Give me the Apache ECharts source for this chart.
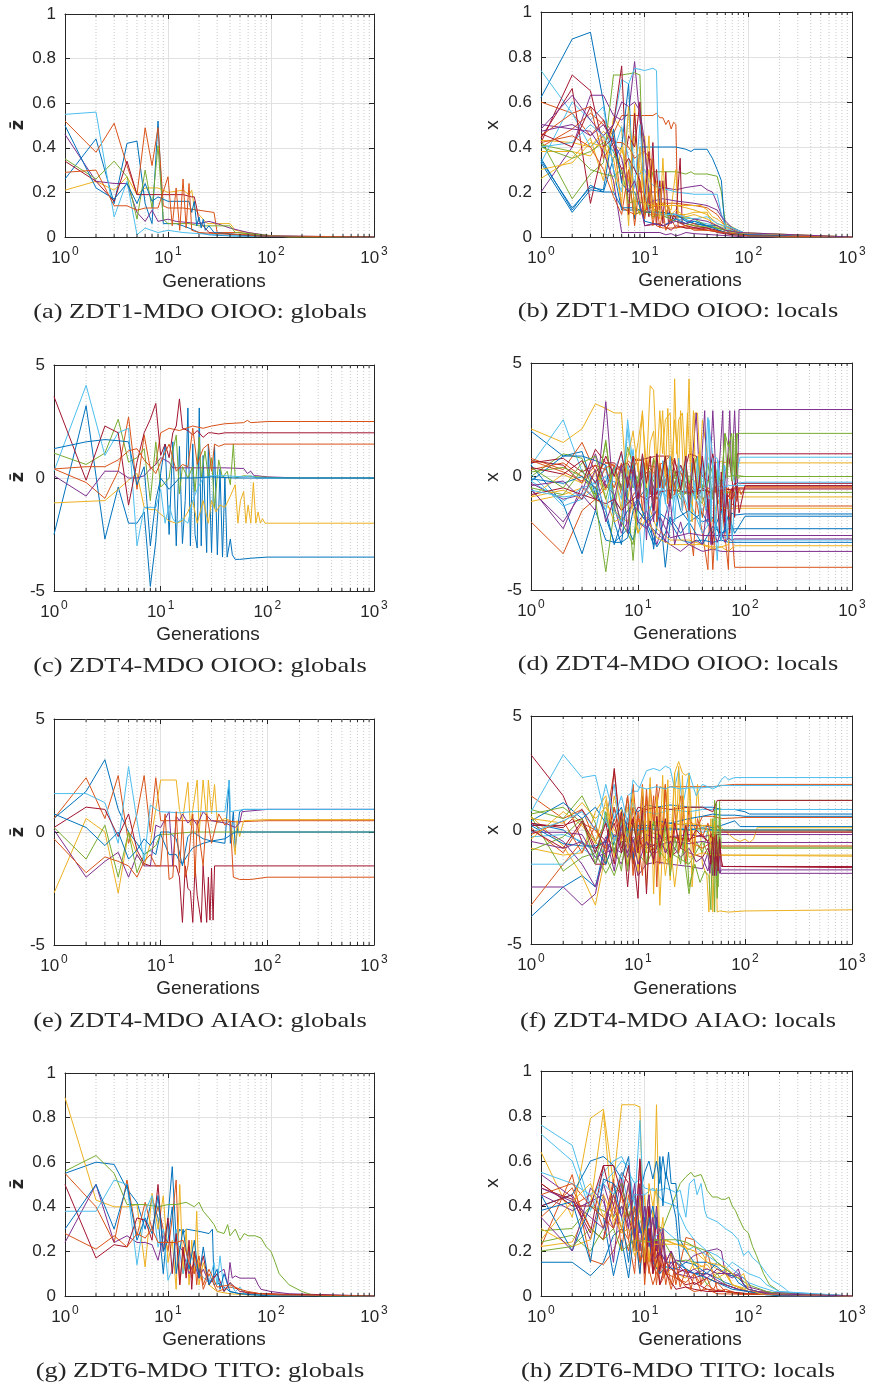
<!DOCTYPE html>
<html>
<head>
<meta charset="utf-8">
<script src="https://cdn.jsdelivr.net/npm/echarts@6/dist/echarts.min.js"></script>
<style>
  html, body { margin: 0; padding: 0; background: #fff; }
  #chart { width: 870px; height: 1387px; }
</style>
</head>
<body>
<div id="chart"></div>
<script>
// MATLAB default line colour order
const matlabColors = ['#0072BD', '#D95319', '#EDB120', '#7E2F8E', '#77AC30', '#4DBEEE', '#A2142F'];
const minorGenerations = [2, 3, 4, 5, 6, 7, 8, 9, 20, 30, 40, 50, 60, 70, 80, 90, 200, 300, 400, 500, 600, 700, 800, 900];
const unitTicks = [0, 1, 0.2];
const zdt4Ticks = [-5, 5, 5];

// each series: generation, value, generation, value, ...
const zdt1OiooGlobals = [
  [1,0.26, 2,0.44, 3,0.15, 4,0.42, 5,0.43, 6,0.15, 7,0.06, 8,0.52, 9,0.06, 10,0.06, 12,0.06, 14,0.05, 16,0.04, 18,0.03, 20,0.02, 25,0.01, 40,0.005, 100,0.002, 1000,0],
  [1,0.52, 2,0.38, 3,0.51, 4,0.32, 5,0.19, 6,0.49, 7,0.32, 8,0.49, 9,0.14, 10,0.13, 14,0.13, 20,0.12, 28,0.11, 30,0.02, 50,0.02, 70,0.01, 100,0.003, 1000,0],
  [1,0.21, 2,0.25, 3,0.21, 4,0.27, 5,0.19, 6,0.22, 8,0.22, 10,0.20, 14,0.21, 16,0.19, 17,0.21, 18,0.13, 20,0.10, 24,0.06, 30,0.06, 40,0.06, 45,0.03, 60,0.02, 80,0.01, 150,0, 1000,0],
  [1,0.46, 2,0.25, 3,0.24, 4,0.24, 5,0.11, 6,0.07, 7,0.12, 8,0.07, 10,0.08, 12,0.07, 20,0.06, 25,0.07, 30,0.06, 40,0.04, 60,0.02, 100,0.005, 1000,0],
  [1,0.35, 2,0.26, 3,0.34, 4,0.27, 5,0.08, 6,0.30, 7,0.13, 8,0.41, 9,0.08, 10,0.06, 16,0.06, 20,0.05, 30,0.05, 40,0.05, 45,0.02, 80,0.01, 150,0, 1000,0],
  [1,0.55, 2,0.56, 3,0.09, 4,0.25, 5,0.01, 6,0.04, 8,0.02, 10,0.03, 14,0.02, 20,0.015, 30,0.01, 50,0.005, 1000,0],
  [1,0.34, 2,0.25, 3,0.16, 4,0.34, 5,0.19, 6,0.19, 10,0.19, 14,0.19, 17,0.18, 18,0.18, 19,0.13, 20,0.07, 22,0.05, 25,0.02, 50,0.01, 100,0.003, 1000,0],
  [1,0.50, 2,0.22, 3,0.17, 4,0.24, 5,0.15, 6,0.24, 7,0.16, 8,0.18, 10,0.16, 12,0.16, 16,0.16, 17,0.11, 18,0.16, 19,0.05, 20,0.09, 21,0.04, 22,0.08, 23,0.03, 25,0.05, 28,0.02, 50,0.01, 100,0.003, 1000,0],
  [1,0.29, 2,0.30, 3,0.14, 4,0.14, 5,0.12, 6,0.13, 8,0.13, 10,0.27, 11,0.05, 12,0.22, 13,0.03, 14,0.26, 15,0.04, 16,0.24, 17,0.03, 20,0.02, 30,0.015, 60,0.01, 70,0.005, 1000,0]
];

const zdt1OiooLocals = [
  [1,0.62, 2,0.88, 3,0.91, 4,0.60, 5,0.30, 6,0.12, 8,0.12, 10,0.11, 14,0.11, 20,0.10, 30,0.06, 50,0.04, 70,0.02, 100,0.005, 200,0, 1000,0],
  [1,0.60, 2,0.55, 3,0.45, 4,0.52, 5,0.46, 6,0.54, 8,0.54, 10,0.54, 12,0.54, 13,0.55, 14,0.53, 15,0.53, 16,0.50, 17,0.52, 18,0.48, 19,0.51, 20,0.50, 21,0.05, 25,0.04, 40,0.03, 60,0.02, 100,0.005, 200,0, 1000,0],
  [1,0.26, 2,0.35, 3,0.44, 4,0.25, 5,0.53, 6,0.48, 7,0.05, 8,0.59, 9,0.10, 10,0.45, 11,0.12, 12,0.35, 13,0.10, 14,0.15, 16,0.14, 20,0.14, 25,0.13, 30,0.12, 40,0.10, 50,0.06, 70,0.03, 100,0.01, 200,0, 1000,0],
  [1,0.20, 2,0.40, 3,0.63, 4,0.63, 5,0.54, 6,0.52, 7,0.55, 8,0.78, 9,0.52, 10,0.40, 11,0.20, 13,0.20, 15,0.22, 20,0.21, 25,0.22, 35,0.23, 40,0.21, 45,0.20, 50,0.15, 60,0.05, 80,0.02, 100,0.005, 1000,0],
  [1,0.43, 2,0.17, 3,0.28, 4,0.33, 5,0.72, 6,0.72, 8,0.73, 9,0.72, 10,0.10, 12,0.29, 16,0.29, 20,0.29, 25,0.28, 28,0.29, 30,0.28, 40,0.28, 50,0.27, 55,0.20, 60,0.06, 80,0.03, 100,0.01, 200,0, 1000,0],
  [1,0.74, 2,0.55, 3,0.40, 4,0.45, 5,0.50, 6,0.70, 7,0.68, 8,0.75, 10,0.74, 12,0.75, 13,0.74, 14,0.10, 16,0.09, 20,0.08, 30,0.07, 50,0.05, 80,0.02, 100,0.01, 1000,0],
  [1,0.42, 2,0.72, 3,0.65, 4,0.40, 5,0.50, 6,0.76, 7,0.10, 8,0.55, 9,0.20, 10,0.20, 11,0.09, 12,0.42, 13,0.05, 14,0.25, 15,0.06, 16,0.29, 17,0.05, 18,0.10, 19,0.08, 20,0.07, 25,0.05, 40,0.03, 60,0.02, 100,0.005, 1000,0],
  [1,0.35, 2,0.12, 3,0.23, 4,0.20, 5,0.35, 6,0.40, 7,0.68, 8,0.08, 9,0.40, 10,0.40, 15,0.40, 20,0.40, 25,0.39, 28,0.38, 30,0.39, 40,0.39, 45,0.35, 50,0.30, 55,0.25, 58,0.10, 60,0.03, 80,0.02, 100,0.005, 1000,0],
  [1,0.40, 2,0.48, 3,0.55, 4,0.50, 5,0.45, 6,0.13, 8,0.10, 10,0.12, 15,0.15, 20,0.15, 30,0.14, 40,0.13, 50,0.10, 60,0.05, 100,0.01, 1000,0],
  [1,0.38, 2,0.38, 3,0.36, 4,0.45, 5,0.20, 6,0.40, 7,0.25, 8,0.45, 9,0.30, 10,0.20, 11,0.45, 12,0.08, 13,0.15, 15,0.15, 18,0.12, 20,0.30, 21,0.10, 25,0.10, 30,0.11, 40,0.11, 45,0.05, 60,0.03, 100,0.01, 1000,0],
  [1,0.50, 2,0.48, 3,0.47, 4,0.38, 5,0.25, 6,0.02, 8,0.02, 10,0.02, 14,0.02, 16,0.01, 18,0.015, 20,0.005, 22,0.01, 25,0.02, 30,0.015, 100,0, 1000,0],
  [1,0.41, 2,0.38, 3,0.30, 4,0.28, 5,0.27, 6,0.30, 7,0.15, 8,0.16, 10,0.15, 15,0.10, 20,0.09, 30,0.08, 40,0.05, 60,0.03, 80,0.02, 100,0.005, 1000,0],
  [1,0.33, 2,0.60, 3,0.52, 4,0.58, 5,0.30, 6,0.20, 7,0.56, 8,0.30, 9,0.28, 10,0.30, 11,0.25, 12,0.23, 14,0.22, 20,0.20, 30,0.19, 40,0.19, 50,0.19, 55,0.10, 60,0.05, 80,0.03, 100,0.01, 1000,0],
  [1,0.44, 2,0.66, 3,0.15, 4,0.40, 5,0.44, 6,0.25, 7,0.45, 8,0.40, 9,0.60, 10,0.15, 11,0.38, 12,0.10, 13,0.30, 14,0.12, 15,0.25, 16,0.10, 17,0.14, 18,0.06, 19,0.10, 20,0.08, 22,0.35, 23,0.06, 25,0.06, 30,0.05, 40,0.04, 50,0.02, 70,0.01, 1000,0],
  [1,0.33, 2,0.11, 3,0.21, 4,0.20, 5,0.20, 6,0.13, 8,0.13, 10,0.11, 15,0.11, 20,0.10, 25,0.07, 30,0.06, 40,0.05, 50,0.05, 60,0.03, 100,0.005, 1000,0],
  [1,0.45, 2,0.55, 3,0.58, 4,0.35, 5,0.42, 6,0.42, 7,0.40, 8,0.35, 9,0.37, 10,0.38, 12,0.33, 13,0.05, 15,0.04, 20,0.04, 30,0.06, 40,0.03, 50,0.03, 80,0.01, 1000,0],
  [1,0.43, 2,0.42, 3,0.40, 4,0.47, 5,0.42, 6,0.38, 7,0.33, 8,0.15, 9,0.10, 10,0.15, 12,0.14, 14,0.14, 16,0.14, 20,0.14, 25,0.14, 30,0.14, 35,0.14, 40,0.12, 45,0.09, 50,0.08, 60,0.05, 100,0.01, 1000,0],
  [1,0.48, 2,0.63, 3,0.52, 4,0.45, 5,0.50, 6,0.60, 7,0.58, 8,0.60, 9,0.56, 10,0.42, 11,0.15, 12,0.16, 15,0.17, 20,0.16, 30,0.15, 40,0.14, 50,0.12, 55,0.09, 70,0.04, 100,0.01, 1000,0],
  [1,0.40, 2,0.35, 3,0.38, 4,0.42, 5,0.38, 6,0.28, 7,0.25, 8,0.10, 10,0.12, 12,0.09, 14,0.10, 20,0.07, 30,0.05, 50,0.04, 80,0.02, 1000,0],
  [1,0.40, 2,0.42, 3,0.50, 4,0.45, 5,0.38, 6,0.49, 7,0.35, 8,0.22, 9,0.50, 10,0.20, 11,0.12, 14,0.10, 20,0.10, 30,0.08, 40,0.09, 50,0.06, 70,0.04, 100,0.01, 1000,0],
  [1,0.46, 2,0.40, 3,0.58, 4,0.52, 5,0.40, 6,0.30, 7,0.35, 8,0.30, 9,0.25, 10,0.05, 14,0.06, 18,0.03, 20,0.05, 25,0.04, 40,0.04, 50,0.03, 70,0.01, 1000,0],
  [1,0.34, 2,0.13, 3,0.22, 4,0.21, 5,0.48, 6,0.24, 7,0.20, 8,0.20, 10,0.07, 15,0.05, 20,0.08, 25,0.06, 30,0.07, 40,0.05, 60,0.02, 80,0.01, 1000,0],
  [1,0.42, 2,0.45, 3,0.40, 4,0.30, 5,0.18, 6,0.10, 7,0.30, 8,0.05, 9,0.25, 10,0.08, 11,0.20, 12,0.05, 13,0.15, 14,0.04, 15,0.12, 16,0.03, 18,0.08, 20,0.04, 25,0.05, 30,0.03, 40,0.03, 60,0.02, 100,0.005, 1000,0],
  [1,0.30, 2,0.33, 3,0.42, 4,0.40, 5,0.35, 6,0.15, 7,0.58, 8,0.10, 9,0.40, 10,0.12, 11,0.30, 12,0.10, 13,0.25, 14,0.08, 15,0.35, 16,0.10, 17,0.14, 18,0.10, 20,0.12, 25,0.09, 30,0.10, 40,0.08, 50,0.05, 70,0.02, 1000,0],
  [1,0.47, 2,0.50, 3,0.45, 4,0.50, 5,0.42, 6,0.35, 7,0.20, 8,0.25, 9,0.15, 10,0.05, 12,0.06, 15,0.05, 20,0.07, 25,0.06, 30,0.08, 40,0.07, 50,0.05, 60,0.03, 80,0.02, 1000,0]
];

const zdt4OiooGlobals = [
  [1,-2.5, 2,3.2, 3,-2.7, 4,-0.4, 5,-2.0, 6,-2.0, 7,-1.5, 8,-4.8, 9,-2.8, 10,0.2, 11,1.5, 12,-2.5, 13,1.6, 14,-3.0, 15,1.4, 16,-2.9, 17,-1.0, 18,3.1, 19,-3.0, 20,1.5, 21,-2.5, 22,-3.1, 23,3.1, 24,-3.0, 25,1.0, 27,-3.3, 28,1.5, 30,-3.3, 32,1.4, 34,-3.4, 36,0.4, 38,-3.5, 40,0.0, 42,-3.5, 45,-2.7, 47,-3.4, 50,-3.6, 55,-3.6, 70,-3.55, 100,-3.5, 200,-3.5, 1000,-3.5],
  [1,0.4, 2,-0.2, 3,-0.9, 4,0.3, 5,2.7, 6,-0.5, 7,1.9, 8,0.4, 9,0.6, 10,2.0, 12,2.2, 15,2.1, 20,2.3, 25,2.2, 30,2.3, 40,2.4, 60,2.45, 65,2.55, 70,2.45, 100,2.5, 1000,2.5],
  [1,-1.1, 3,-1.0, 4,-0.5, 5,-0.1, 6,0.2, 7,-1.3, 8,-1.4, 9,-1.4, 10,-1.6, 12,-1.9, 14,-2.0, 16,-1.9, 18,-1.5, 20,-1.0, 22,-2.0, 25,-1.0, 28,-2.0, 30,-1.0, 33,-1.5, 36,-1.2, 40,-1.3, 45,-0.8, 50,-0.3, 53,-2.0, 56,-1.0, 60,-0.6, 63,-2.0, 66,-1.2, 70,-2.0, 74,-0.2, 78,-2.0, 82,-1.5, 86,-2.0, 90,-1.8, 95,-2.0, 100,-2.0, 300,-2.0, 1000,-2.0],
  [1,0.1, 2,-0.8, 3,0.3, 4,0.3, 5,0.0, 6,0.0, 7,0.1, 8,0.4, 9,0.6, 10,0.9, 12,0.7, 13,0.45, 16,0.45, 20,0.45, 30,0.45, 40,0.45, 60,0.42, 65,0.2, 70,0.3, 75,0.1, 80,0.1, 100,0.05, 200,0, 1000,0],
  [1,1.1, 2,0.6, 3,1.1, 4,2.6, 5,0.7, 6,0.9, 7,1.3, 8,-1.0, 9,1.6, 10,-0.4, 11,-0.2, 12,0.0, 13,1.2, 14,1.9, 15,-0.7, 16,0.5, 18,0.0, 20,0.5, 21,-0.6, 23,1.8, 24,0.0, 26,1.2, 28,0.0, 30,0.9, 32,-1.3, 35,0.8, 38,0.0, 42,0.3, 45,-0.3, 48,1.5, 50,0.0, 60,0.1, 80,0.05, 150,0.0, 1000,0],
  [1,0.3, 2,4.1, 3,1.0, 4,2.0, 5,2.2, 6,-3.0, 7,-1.3, 8,-1.3, 9,-1.3, 10,-0.5, 11,-2.0, 12,-1.2, 13,-1.8, 14,-2.0, 16,-1.8, 18,-2.0, 20,-1.0, 22,-0.5, 25,0.0, 30,0.1, 40,0.1, 60,0.05, 70,0.1, 80,0.0, 1000,0],
  [1,3.6, 2,-0.1, 3,2.3, 4,2.0, 5,-1.2, 6,0.7, 7,2.0, 8,2.6, 9,3.3, 10,1.0, 11,1.5, 12,0.9, 13,2.0, 14,2.3, 15,3.5, 16,2.2, 18,2.1, 20,1.9, 22,2.1, 25,1.8, 28,2.0, 30,2.0, 35,1.95, 40,2.0, 50,2.0, 1000,2.0],
  [1,1.3, 2,1.6, 3,1.7, 4,1.65, 5,1.6, 6,-0.3, 7,0.5, 8,-3.0, 9,-1.0, 10,0.0, 12,-0.5, 15,0.0, 20,0.0, 30,0.05, 50,0.0, 1000,0],
  [1,0.4, 2,0.5, 3,0.5, 4,0.8, 5,1.2, 6,1.3, 7,0.8, 8,0.5, 9,0.2, 10,0.7, 12,1.5, 14,0.3, 16,0.6, 18,0.5, 20,2.2, 22,0.6, 25,1.3, 28,1.5, 30,0.3, 32,1.5, 35,1.4, 40,1.5, 1000,1.5]
];

const zdt4OiooLocals = [
  [1,2.0, 2,0.9, 3,1.1, 4,-0.8, 5,-1.5, 6,-3.0, 7,-2.0, 8,-1.5, 10,-1.0, 12,-0.5, 14,-3.2, 16,-1.0, 20,0.5, 25,-1.5, 30,-2.0, 40,-1.6, 50,-2.5, 60,-1.5, 70,-2.8, 75,-1.6, 80,-1.7, 100,-1.65, 1000,-1.65],
  [1,-2.0, 2,-3.4, 3,-1.5, 4,-1.0, 5,-0.5, 6,0.5, 7,-0.8, 8,-1.2, 10,-0.5, 12,0.8, 14,-1.5, 16,0.5, 20,-1.0, 25,-0.4, 30,-2.0, 33,-3.5, 35,-1.0, 40,-2.5, 45,-4.1, 47,-1.0, 50,-4.1, 55,-0.8, 60,-1.0, 70,-4.1, 72,-1.0, 80,-4.0, 100,-4.0, 1000,-4.0],
  [1,2.1, 2,1.5, 3,2.1, 4,3.2, 5,3.0, 6,2.8, 7,2.8, 8,-1.0, 10,1.5, 11,2.8, 12,0.3, 13,4.0, 14,3.8, 15,0.5, 16,2.9, 17,1.0, 18,2.5, 20,2.8, 21,-1.0, 22,4.3, 23,1.0, 24,2.5, 26,2.8, 28,0.0, 30,4.3, 32,-2.0, 34,2.8, 36,2.8, 38,0.5, 40,2.5, 45,0.8, 50,0.6, 60,0.65, 70,0.6, 100,0.6, 1000,0.6],
  [1,-0.3, 2,-1.0, 3,-0.8, 4,-1.5, 5,3.3, 6,-1.3, 7,-2.5, 8,-2.0, 9,-1.0, 10,-2.0, 12,-1.5, 15,-3.0, 20,-1.0, 25,0.5, 30,-1.0, 35,2.8, 38,-0.5, 42,2.9, 45,-2.0, 50,2.9, 55,-1.0, 62,2.9, 65,-2.5, 72,2.9, 75,0.0, 80,2.9, 85,-0.5, 88,2.95, 100,2.95, 1000,2.95],
  [1,0.0, 2,1.0, 3,0.8, 4,-1.0, 5,1.6, 6,-1.5, 7,0.5, 8,-1.0, 9,-3.7, 10,-1.0, 12,-2.0, 15,-0.5, 20,0.0, 25,-1.0, 30,-0.5, 40,-1.2, 50,0.5, 60,-0.5, 65,1.9, 70,1.3, 75,1.9, 80,-0.2, 85,1.9, 90,1.9, 100,1.9, 1000,1.9],
  [1,0.5, 2,2.5, 3,0.2, 4,-0.2, 5,-0.5, 6,-0.2, 7,-1.0, 8,2.5, 9,0.5, 10,-0.5, 12,0.5, 15,-1.0, 20,0.3, 25,-0.5, 30,-1.5, 35,0.0, 40,-1.0, 45,2.6, 50,0.9, 55,0.8, 60,-0.5, 70,0.9, 80,-0.3, 90,0.85, 100,0.85, 1000,0.85],
  [1,0.7, 2,0.5, 3,-0.3, 4,1.2, 5,0.6, 6,0.6, 7,0.3, 8,-0.4, 9,0.8, 10,0.7, 12,0.8, 15,0.9, 20,0.9, 25,-0.5, 30,1.0, 35,0.9, 40,0.0, 45,-0.2, 50,1.0, 60,-1.5, 70,1.0, 80,-1.0, 85,1.0, 100,1.0, 1000,1.0],
  [1,0.5, 2,-1.2, 3,-3.4, 4,-1.5, 5,-2.8, 6,-2.9, 7,-2.6, 8,-2.3, 9,-2.8, 10,-2.0, 12,-2.2, 14,-3.0, 16,-1.5, 18,-4.0, 20,-2.0, 25,-2.8, 30,-2.9, 40,-2.8, 50,-2.9, 60,-2.8, 70,-2.9, 100,-2.9, 1000,-2.9],
  [1,0.8, 2,0.3, 3,1.5, 4,0.2, 5,0.6, 6,0.5, 7,-0.5, 8,0.7, 9,0.5, 10,-0.5, 12,0.6, 15,-1.0, 20,0.0, 30,-0.3, 40,-1.0, 50,-0.6, 60,-0.8, 70,-0.5, 75,-1.2, 80,-1.3, 100,-1.3, 1000,-1.3],
  [1,-1.1, 2,-0.8, 3,-0.5, 4,-1.0, 5,-1.3, 6,-1.5, 7,-1.8, 8,-2.0, 9,-1.0, 10,-2.5, 12,-1.0, 15,-2.3, 20,-2.8, 25,-2.8, 30,-2.8, 40,-3.0, 50,-3.1, 60,-3.1, 70,-3.0, 75,-0.9, 80,-0.9, 100,-0.9, 1000,-0.9],
  [1,-0.5, 2,-2.3, 3,-0.4, 4,-1.0, 5,-0.2, 6,0.4, 7,-0.5, 8,-1.0, 10,-1.5, 12,-2.0, 15,-2.5, 20,-3.0, 25,-3.3, 30,-3.0, 40,-3.3, 50,-3.2, 60,-3.3, 100,-3.3, 1000,-3.3],
  [1,0.2, 2,0.4, 3,0.0, 4,-0.8, 5,1.5, 6,-1.0, 7,-2.0, 8,0.3, 9,-0.5, 10,0.0, 12,0.5, 15,-0.5, 20,0.3, 30,0.0, 40,-0.5, 50,0.0, 60,-0.2, 70,0.0, 80,0.05, 100,0.0, 1000,0.0],
  [1,0.1, 2,-1.3, 3,-1.0, 4,-0.5, 5,0.5, 6,-1.0, 7,-1.5, 8,2.1, 9,0.0, 10,-1.5, 11,-3.8, 12,-1.0, 15,0.5, 20,-2.0, 25,0.5, 30,-1.0, 40,-2.5, 50,-1.8, 60,-2.6, 70,-2.8, 100,-2.8, 1000,-2.8],
  [1,0.6, 2,0.8, 3,0.2, 4,0.5, 5,-0.5, 6,0.2, 7,0.5, 8,0.6, 10,-0.3, 12,0.2, 15,-0.8, 18,0.8, 20,-0.3, 25,0.5, 30,-0.3, 35,-1.0, 40,-0.5, 50,-0.8, 55,-0.3, 60,-1.0, 65,-0.4, 70,-0.9, 75,-0.6, 80,-0.3, 100,-0.3, 1000,-0.3],
  [1,-0.2, 2,0.9, 3,0.9, 4,0.7, 5,0.5, 6,-2.0, 7,-3.0, 8,-0.5, 9,0.5, 10,-1.5, 12,-2.0, 15,-3.1, 18,-2.5, 20,-1.8, 25,-2.5, 30,-2.0, 40,-3.0, 50,-2.2, 60,-2.5, 70,-2.3, 80,-2.3, 100,-2.3, 1000,-2.3],
  [1,0.3, 2,0.6, 3,0.0, 4,-0.5, 5,0.4, 6,0.5, 7,0.2, 8,-0.2, 10,0.8, 12,0.5, 15,0.4, 20,0.9, 25,0.2, 30,-0.8, 40,-0.4, 50,-0.6, 60,-0.4, 70,-0.7, 80,-0.5, 100,-0.5, 1000,-0.5],
  [1,-0.9, 2,0.1, 3,-0.3, 4,0.3, 5,-1.0, 6,-2.0, 7,-1.8, 8,0.5, 9,-1.5, 10,-2.5, 12,-1.8, 15,-2.7, 20,-3.0, 30,-3.0, 40,-3.0, 50,-3.2, 60,-3.1, 70,-3.3, 80,-3.05, 100,-3.05, 1000,-3.05],
  [1,-0.6, 2,-2.0, 3,-0.7, 4,1.0, 5,-0.4, 6,-0.8, 7,-2.2, 8,0.0, 10,-2.0, 12,-2.3, 15,-1.5, 20,-2.7, 30,-2.5, 40,-2.6, 50,-2.6, 60,-2.6, 80,-2.6, 1000,-2.6],
  [1,-0.5, 2,-0.8, 3,0.3, 4,-1.0, 5,-4.2, 6,-1.5, 7,-2.0, 8,-2.5, 9,-3.0, 10,-1.0, 12,0.5, 15,0.0, 20,-0.5, 30,-0.8, 40,-0.6, 60,-0.7, 100,-0.7, 1000,-0.7],
  [1,-0.2, 2,-1.1, 3,-0.5, 4,-0.3, 5,0.0, 6,-1.5, 7,-2.0, 8,0.5, 10,-1.0, 12,-2.0, 15,-0.5, 20,-1.0, 30,-0.5, 40,-1.5, 50,-0.5, 55,-3.7, 60,-0.5, 70,-0.4, 100,-0.4, 1000,-0.4],
  [1,-0.8, 2,-0.5, 3,-0.8, 4,-1.0, 5,-1.2, 6,-1.0, 7,-1.5, 8,-1.2, 10,-0.8, 12,-1.0, 15,-0.7, 20,-0.6, 30,-0.7, 40,-0.6, 50,-0.7, 60,-0.6, 80,-0.55, 100,-0.55, 1000,-0.55],
  [1,-0.1, 2,-0.3, 3,0.0, 4,-0.5, 5,-1.8, 6,-2.9, 7,-2.9, 8,-2.7, 9,-1.5, 10,-1.0, 12,-2.0, 15,-1.5, 20,-2.0, 30,-1.5, 40,-2.0, 50,-1.8, 60,-2.8, 70,-1.7, 80,-2.5, 100,-1.75, 1000,-1.75],
  [1,0.7, 2,0.2, 3,-0.2, 4,0.5, 5,0.3, 6,-0.5, 7,0.6, 8,-0.3, 9,0.9, 10,0.5, 11,-1.5, 12,0.7, 13,-0.8, 14,0.8, 15,-2.0, 16,0.6, 17,-0.5, 18,0.8, 19,-1.2, 20,0.9, 22,-0.8, 24,0.7, 26,-1.5, 28,0.5, 30,-0.7, 33,0.8, 36,-0.6, 40,-1.8, 44,-0.5, 48,-1.0, 52,-0.4, 56,-1.2, 60,-0.6, 64,-1.8, 67,-0.5, 70,-1.4, 73,-0.6, 76,-1.0, 80,-0.7, 84,-1.1, 88,-0.5, 92,-0.8, 100,-0.45, 1000,-0.45],
  [1,-0.9, 2,-0.6, 3,-1.0, 4,0.2, 5,-0.6, 6,0.3, 7,-1.5, 8,0.8, 9,2.0, 10,0.2, 11,2.9, 12,-0.5, 13,1.5, 14,2.0, 15,-0.5, 16,1.0, 17,2.9, 18,0.0, 19,3.0, 20,-0.5, 22,2.5, 24,0.3, 25,2.9, 27,-0.6, 29,2.8, 31,0.2, 33,2.9, 35,-1.0, 37,1.0, 40,-1.2, 45,-1.4, 50,-2.0, 55,-1.0, 60,-1.4, 70,-1.4, 80,-1.4, 100,-1.4, 1000,-1.4],
  [1,-0.4, 2,-0.2, 3,-1.0, 4,0.3, 5,-2.0, 6,-1.0, 7,0.5, 8,-2.5, 9,0.3, 10,-1.5, 11,0.6, 12,-2.8, 13,0.0, 14,-2.0, 15,0.8, 16,-2.2, 18,-2.9, 20,-1.0, 22,-3.0, 25,-2.0, 28,-2.9, 30,-3.0, 35,-2.8, 40,-3.0, 45,-1.0, 48,-3.0, 52,-2.5, 55,-2.9, 60,-2.4, 65,-2.9, 70,-2.7, 75,-2.8, 80,-2.75, 100,-2.75, 1000,-2.75],
  [1,0.4, 2,-0.5, 3,0.6, 4,0.9, 5,-1.0, 6,0.4, 7,-0.6, 8,1.3, 9,0.5, 10,-0.3, 11,0.9, 12,-0.9, 14,0.8, 16,-0.2, 18,0.9, 20,-1.0, 22,0.2, 25,-0.8, 28,0.5, 30,-0.3, 35,0.8, 40,-0.5, 45,0.6, 50,-1.0, 55,0.3, 60,-0.4, 65,1.9, 68,0.0, 72,1.5, 75,-0.2, 78,1.9, 80,0.0, 83,1.9, 85,-0.1, 90,0.0, 1000,0.0],
  [1,-0.6, 2,-0.9, 3,-0.8, 4,-0.2, 5,-1.5, 6,0.3, 7,1.0, 8,-0.6, 9,1.2, 10,-1.0, 11,0.9, 12,-1.5, 13,0.2, 14,-0.8, 15,1.0, 16,-1.8, 17,0.7, 18,-1.2, 20,0.9, 22,-2.0, 24,0.8, 26,-1.5, 28,0.9, 30,-2.5, 32,0.6, 34,-1.0, 36,0.9, 38,-2.2, 40,0.8, 43,-1.5, 46,2.5, 48,-2.0, 50,0.8, 53,-2.7, 56,0.7, 60,-2.8, 64,0.5, 68,-2.7, 72,-1.0, 76,-2.8, 80,-1.0, 85,-0.3, 100,-0.25, 1000,-0.25],
  [1,0.4, 2,0.1, 3,0.7, 4,-0.3, 5,0.9, 6,0.0, 7,1.1, 8,-0.5, 9,0.9, 10,-1.0, 11,1.0, 12,-0.3, 13,0.9, 14,-1.5, 15,1.0, 16,-0.5, 18,0.9, 20,-1.0, 22,0.8, 25,-0.6, 28,0.9, 30,-1.5, 33,0.8, 36,-0.8, 40,0.9, 45,-1.2, 50,-3.0, 52,0.5, 55,-1.0, 58,-2.5, 60,0.2, 64,-2.0, 68,-0.8, 72,-2.5, 76,-0.5, 80,-1.8, 84,-0.4, 88,-1.6, 100,-0.4, 1000,-0.4]
];

const zdt4AiaoGlobals = [
  [1,0.6, 2,1.8, 3,3.2, 4,1.0, 5,0.0, 6,-0.5, 7,-1.0, 8,-0.8, 9,-1.0, 10,0.0, 12,0.0, 14,-0.3, 16,-1.5, 18,-0.2, 20,0.0, 25,-0.3, 30,-0.4, 40,-0.5, 44,2.3, 45,-0.5, 48,0.9, 50,-0.7, 55,0.9, 60,1.0, 100,1.0, 1000,1.0],
  [1,0.6, 2,2.4, 3,0.6, 4,2.5, 5,-0.5, 6,0.8, 7,2.5, 8,0.0, 9,2.4, 10,0.5, 12,0.5, 15,0.5, 20,0.5, 30,0.5, 40,0.5, 50,0.45, 100,0.5, 1000,0.5],
  [1,-2.7, 2,0.6, 3,0.0, 4,-2.7, 5,0.0, 6,-1.0, 7,-1.5, 8,-0.5, 9,1.0, 10,2.3, 12,2.3, 14,2.3, 15,1.0, 16,0.5, 18,2.2, 19,0.3, 20,1.0, 22,2.3, 23,0.0, 25,2.3, 27,0.5, 28,2.3, 30,0.8, 32,2.1, 34,0.4, 40,0.6, 45,0.5, 50,-1.0, 52,0.5, 55,-0.2, 60,0.5, 100,0.55, 1000,0.55],
  [1,0.1, 2,-2.0, 3,-1.3, 4,-0.9, 5,-2.0, 6,-1.0, 7,-1.5, 8,-1.5, 9,0.3, 10,0.2, 12,0.9, 13,-1.5, 14,0.7, 15,0.5, 16,0.8, 18,0.4, 20,0.6, 22,0.3, 25,0.9, 30,0.5, 40,0.4, 50,0.2, 55,0.4, 58,0.9, 60,0.95, 100,1.0, 1000,1.0],
  [1,0.2, 2,-1.2, 3,0.3, 4,-2.0, 5,0.0, 6,-1.8, 7,-1.0, 8,-0.8, 9,-0.6, 10,-0.1, 12,-0.1, 15,-0.05, 20,0.0, 40,0.0, 1000,0.0],
  [1,1.7, 2,1.7, 3,1.3, 4,-0.5, 5,2.9, 6,0.5, 7,-1.3, 8,1.2, 9,1.0, 10,0.9, 15,0.85, 20,0.9, 30,0.9, 40,0.9, 44,2.3, 45,0.9, 60,1.0, 1000,1.0],
  [1,0.2, 2,1.1, 3,1.0, 4,-0.2, 5,0.8, 6,-0.8, 7,-1.4, 8,-1.5, 10,-1.5, 14,-1.5, 15,-2.0, 16,-4.0, 17,-1.5, 18,-2.5, 19,-2.6, 20,-4.0, 21,-1.5, 22,-2.8, 24,-4.0, 25,-1.5, 27,-4.0, 28,-2.0, 29,-3.9, 30,-1.6, 31,-3.9, 32,-1.5, 40,-1.5, 100,-1.5, 1000,-1.5],
  [1,0.8, 2,0.2, 3,-0.6, 4,0.0, 5,-1.2, 6,-0.8, 7,-0.3, 8,-0.6, 9,-0.2, 10,-0.1, 12,-1.0, 14,-1.0, 15,-1.3, 16,-1.4, 18,-1.0, 20,-0.7, 25,-0.5, 30,-0.4, 40,-0.3, 50,0.0, 100,0.0, 1000,0.0],
  [1,-0.3, 2,-1.8, 3,-1.1, 4,-1.3, 5,-1.5, 6,-2.0, 7,-1.3, 8,-1.0, 9,-1.5, 10,-1.5, 11,0.8, 12,-2.1, 13,-2.0, 14,0.9, 15,-1.8, 16,0.5, 17,-2.0, 18,-1.5, 20,0.8, 21,-2.0, 22,0.5, 25,-1.5, 27,0.8, 30,-0.5, 35,0.8, 40,0.3, 45,0.5, 48,-2.0, 50,-2.0, 55,-2.1, 70,-2.1, 100,-2.0, 1000,-2.0]
];

const zdt4AiaoLocals = [
  [1,-3.8, 2,-2.5, 3,-2.0, 4,-2.5, 5,-0.5, 6,-1.0, 7,0.5, 8,0.0, 9,1.0, 10,0.8, 12,1.1, 15,1.0, 20,1.1, 30,1.0, 40,1.0, 50,1.0, 60,0.9, 80,0.9, 100,0.8, 110,0.7, 1000,0.7],
  [1,1.5, 2,0.5, 3,0.9, 4,-0.5, 5,0.3, 6,2.6, 7,-0.5, 8,-1.0, 9,1.0, 10,-0.5, 11,2.0, 12,-0.8, 13,2.0, 14,0.2, 16,1.9, 18,1.8, 20,1.9, 25,1.9, 30,1.9, 40,1.9, 50,1.9, 60,1.95, 80,2.0, 1000,2.0],
  [1,0.6, 2,-0.7, 3,-2.0, 4,-3.3, 5,-1.0, 6,1.5, 7,0.0, 8,1.0, 9,-1.0, 10,-2.0, 11,0.5, 12,-2.5, 13,1.0, 14,-1.5, 15,0.5, 16,-3.3, 18,2.0, 20,-1.0, 22,2.5, 24,3.0, 26,2.5, 28,2.4, 30,2.5, 33,-1.0, 36,2.0, 40,-1.5, 44,-2.0, 46,-3.6, 48,0.5, 50,-3.6, 53,0.0, 55,-3.6, 58,-3.55, 70,-3.6, 100,-3.55, 1000,-3.5],
  [1,-2.5, 2,-2.5, 3,-3.3, 4,-2.8, 5,-0.5, 6,-1.0, 7,-1.5, 8,-0.5, 9,-1.0, 10,-2.0, 12,-1.5, 15,-1.4, 20,-1.5, 30,-1.6, 40,-1.7, 45,-1.0, 47,-1.9, 49,-0.5, 51,-1.9, 53,-0.4, 55,-1.9, 57,-0.6, 59,-1.9, 60,-1.9, 1000,-1.9],
  [1,0.9, 2,0.5, 3,1.5, 4,0.3, 5,-1.5, 6,-0.5, 7,-1.8, 8,0.5, 9,-1.5, 10,-0.5, 12,-1.0, 15,-0.8, 20,-1.5, 25,0.0, 30,-2.8, 35,-0.5, 40,-1.0, 45,0.0, 50,-2.0, 52,1.3, 55,-3.0, 58,1.3, 60,1.3, 1000,1.3],
  [1,0.8, 2,3.3, 3,2.3, 4,2.4, 5,0.5, 6,2.0, 7,-0.5, 8,1.5, 9,1.7, 10,1.7, 12,2.6, 14,2.7, 16,2.6, 18,2.8, 20,2.7, 22,1.8, 24,2.7, 26,1.0, 30,2.5, 35,1.5, 40,2.0, 50,1.8, 55,1.9, 60,2.2, 65,2.35, 70,2.2, 80,2.3, 100,2.3, 1000,2.3],
  [1,3.3, 2,1.5, 3,-0.5, 4,-1.5, 5,-1.5, 6,2.7, 7,-0.5, 8,-0.5, 9,-1.0, 10,-3.0, 11,1.5, 12,-0.5, 14,-1.0, 16,-0.5, 20,-1.2, 25,-0.8, 30,-1.0, 40,-1.2, 45,-0.8, 50,-1.5, 52,-0.2, 55,-1.6, 58,-0.3, 60,-1.6, 1000,-1.6],
  [1,0.3, 2,0.0, 3,-0.6, 4,-0.8, 5,-1.5, 6,-0.5, 7,0.0, 8,-0.5, 9,0.3, 10,0.2, 15,0.2, 20,0.3, 30,0.2, 40,0.2, 50,0.1, 60,0.2, 80,0.4, 90,0.15, 1000,0.15],
  [1,-3.3, 2,-1.5, 3,-0.5, 4,-1.0, 5,0.5, 6,-0.5, 7,0.8, 8,-0.5, 9,2.0, 10,-0.5, 11,-2.0, 12,1.5, 13,-1.0, 14,0.5, 15,2.0, 16,-1.5, 18,2.0, 20,-2.0, 22,0.0, 25,1.5, 28,-1.5, 30,0.5, 35,0.0, 40,0.6, 50,0.6, 60,0.5, 100,0.55, 1000,0.55],
  [1,-0.8, 2,-1.1, 3,-1.0, 4,0.8, 5,1.5, 6,-0.5, 7,0.5, 8,-1.5, 9,0.5, 10,-1.0, 12,0.0, 14,-1.5, 16,0.5, 18,-2.0, 20,-0.5, 22,-2.5, 24,-1.0, 26,1.0, 30,-1.2, 40,-1.0, 50,-1.1, 60,-1.1, 1000,-1.1],
  [1,0.3, 2,-0.5, 3,-1.5, 4,-2.5, 5,-1.0, 6,-0.2, 7,-0.5, 8,-1.0, 9,-0.3, 10,-0.5, 12,-0.2, 15,-0.4, 20,-0.3, 30,-0.2, 40,-0.3, 50,-0.2, 60,-0.2, 1000,-0.2],
  [1,0.6, 2,-1.8, 3,-1.2, 4,-1.0, 5,-1.9, 6,-1.2, 7,-0.5, 8,-1.6, 9,-0.8, 10,-1.0, 12,-1.5, 15,-0.5, 20,-1.0, 30,-1.5, 40,-0.5, 50,-1.5, 55,-0.5, 60,-0.75, 1000,-0.75],
  [1,-1.5, 2,-1.5, 3,-0.8, 4,-1.2, 5,-0.8, 6,-0.5, 7,0.0, 8,0.3, 9,1.2, 10,0.5, 12,0.8, 15,0.7, 20,0.9, 30,0.8, 40,0.9, 50,0.9, 60,0.9, 1000,0.9],
  [1,0.3, 2,0.1, 3,0.9, 4,0.0, 5,-0.5, 6,1.0, 7,-0.8, 8,-0.2, 9,0.5, 10,1.0, 12,0.9, 15,1.0, 20,0.9, 30,1.0, 40,1.0, 50,0.8, 55,1.3, 60,1.3, 1000,1.3],
  [1,0.4, 2,1.2, 3,0.5, 4,1.0, 5,0.3, 6,-0.3, 7,-0.2, 8,0.0, 9,-1.3, 10,0.2, 12,0.0, 15,0.4, 20,0.3, 30,0.5, 40,0.6, 50,0.7, 60,0.65, 80,0.65, 100,0.6, 1000,0.6],
  [1,0.1, 2,-1.0, 3,0.3, 4,0.0, 5,-0.8, 6,0.5, 7,-0.5, 8,1.5, 9,-1.0, 10,0.5, 12,-0.5, 15,-1.0, 20,-0.3, 30,-0.5, 40,-0.8, 50,-0.5, 60,-0.7, 1000,-0.7],
  [1,0.5, 2,0.3, 3,1.2, 4,0.5, 5,1.0, 6,0.0, 7,-0.5, 8,0.4, 9,0.1, 10,0.4, 15,0.3, 20,0.2, 30,0.3, 40,0.2, 50,0.2, 60,0.1, 80,-0.4, 90,-0.5, 100,-0.4, 110,-0.55, 120,-0.4, 130,0.1, 1000,0.1],
  [1,-0.1, 2,-0.1, 3,-0.2, 4,-1.2, 5,-1.0, 6,-0.8, 7,-1.0, 8,-0.6, 9,-1.0, 10,-0.8, 12,-0.6, 15,-0.7, 20,-0.5, 30,-0.6, 40,-0.5, 50,-0.6, 60,-0.55, 1000,-0.55],
  [1,0.7, 2,1.0, 3,0.3, 4,-0.5, 5,-1.2, 6,-2.0, 7,-1.0, 8,0.0, 9,-0.5, 10,-0.2, 12,0.0, 15,-0.2, 20,0.1, 30,0.0, 40,0.05, 50,0.0, 1000,0.0],
  [1,-0.3, 2,-0.2, 3,-0.5, 4,-1.0, 5,0.5, 6,-0.5, 7,0.3, 8,-0.3, 9,0.2, 10,0.0, 15,0.1, 20,0.0, 30,0.1, 40,-0.1, 50,0.0, 60,-0.05, 1000,-0.05],
  [1,0.2, 2,0.2, 3,0.5, 4,-0.8, 5,-0.5, 6,0.3, 7,-1.0, 8,0.5, 9,-1.5, 10,-0.5, 12,-0.8, 15,-0.6, 20,-0.3, 30,-0.4, 40,-0.2, 45,-0.5, 50,-0.1, 60,-0.1, 1000,-0.1],
  [1,0.2, 2,-0.6, 3,-0.7, 4,-0.7, 5,-0.5, 6,0.5, 7,1.0, 8,0.0, 9,0.0, 10,0.0, 12,0.1, 15,0.0, 20,0.05, 30,0.0, 40,0.1, 50,0.0, 100,0.0, 1000,0.0],
  [1,-0.2, 2,0.4, 3,-1.0, 4,0.2, 5,-1.0, 6,1.0, 7,-0.3, 8,1.5, 9,-2.0, 10,0.8, 11,-1.0, 12,1.8, 13,-0.5, 14,1.5, 15,-2.5, 16,1.0, 17,-0.5, 18,1.9, 20,-1.5, 22,1.0, 24,-1.0, 26,1.5, 28,-0.5, 30,1.0, 33,-1.0, 36,0.5, 40,-0.3, 45,0.3, 50,-0.5, 55,0.2, 60,-0.05, 1000,-0.05],
  [1,-0.4, 2,0.8, 3,0.2, 4,-0.6, 5,1.3, 6,-1.2, 7,0.9, 8,-0.8, 9,1.6, 10,-1.8, 11,1.9, 12,-1.0, 13,2.3, 14,-2.8, 15,1.5, 16,-0.8, 17,2.4, 18,-1.5, 19,2.2, 20,-2.2, 22,2.5, 23,0.0, 24,2.8, 25,-0.8, 26,2.4, 28,-1.0, 30,2.4, 32,-2.5, 35,0.0, 40,0.2, 45,0.0, 50,-1.0, 52,0.4, 55,-0.9, 58,-1.1, 60,-1.15, 1000,-1.15],
  [1,-0.5, 2,-0.8, 3,-0.5, 4,-1.5, 5,-0.3, 6,-1.8, 7,0.2, 8,-1.2, 9,-0.4, 10,-1.5, 12,-0.5, 14,-1.3, 16,-0.2, 18,-1.0, 20,-0.5, 25,-1.2, 30,-0.8, 35,-1.4, 40,-1.2, 45,-1.8, 48,-1.2, 50,-2.0, 52,-1.2, 54,-2.0, 56,-1.3, 58,-1.9, 60,-1.75, 1000,-1.75],
  [1,-0.9, 2,-0.3, 3,0.5, 4,-1.5, 5,0.8, 6,-1.0, 7,0.5, 8,-1.8, 9,0.3, 10,-0.8, 11,0.6, 12,-1.5, 14,0.4, 16,-1.2, 18,0.2, 20,-2.0, 22,-0.3, 25,-1.5, 28,0.0, 30,-2.5, 34,-1.5, 38,-2.3, 42,-1.8, 46,-2.0, 48,-3.5, 50,0.5, 52,-3.6, 54,1.2, 56,-2.5, 58,1.0, 60,-0.8, 1000,-0.8],
  [1,-0.1, 2,0.4, 3,0.8, 4,0.0, 5,2.0, 6,0.5, 7,1.5, 8,0.3, 9,2.2, 10,1.9, 12,1.8, 15,1.9, 18,1.8, 20,1.9, 25,1.8, 30,1.85, 40,1.85, 50,1.9, 55,1.9, 60,1.95, 70,1.95, 100,1.95, 1000,1.95],
  [1,0.0, 2,-0.8, 3,0.4, 4,-1.0, 5,0.3, 6,-1.5, 7,0.8, 8,-2.5, 9,0.5, 10,-1.0, 11,0.9, 12,-2.8, 13,0.4, 14,-1.5, 15,0.6, 16,-0.8, 18,0.5, 20,-1.2, 22,0.3, 25,-0.8, 28,0.2, 30,-0.5, 35,0.0, 40,-0.3, 45,-0.5, 48,-1.5, 50,-0.3, 52,-2.0, 54,-0.2, 56,-1.8, 58,-0.4, 60,-1.3, 62,-1.6, 1000,-1.65]
];

const zdt6TitoGlobals = [
  [1,0.55, 2,0.60, 3,0.59, 4,0.48, 5,0.42, 6,0.30, 7,0.44, 8,0.35, 9,0.10, 10,0.35, 11,0.58, 12,0.25, 13,0.30, 14,0.28, 15,0.30, 20,0.29, 25,0.28, 27,0.30, 28,0.05, 30,0.06, 35,0.04, 40,0.02, 50,0.01, 100,0.005, 1000,0],
  [1,0.55, 2,0.40, 3,0.24, 4,0.52, 5,0.27, 6,0.42, 7,0.30, 8,0.40, 9,0.30, 10,0.20, 11,0.35, 12,0.52, 13,0.05, 14,0.20, 15,0.10, 16,0.22, 17,0.08, 18,0.20, 19,0.05, 20,0.15, 22,0.03, 25,0.10, 30,0.02, 40,0.04, 50,0.03, 60,0.01, 100,0.01, 150,0.005, 1000,0],
  [1,0.89, 2,0.43, 3,0.40, 4,0.40, 5,0.41, 6,0.13, 7,0.46, 8,0.30, 9,0.45, 10,0.15, 11,0.25, 12,0.03, 13,0.50, 14,0.10, 15,0.30, 16,0.05, 17,0.25, 18,0.10, 19,0.38, 20,0.05, 22,0.15, 25,0.05, 30,0.02, 40,0.01, 60,0.005, 1000,0],
  [1,0.24, 2,0.50, 3,0.24, 4,0.27, 5,0.24, 6,0.24, 7,0.23, 8,0.16, 9,0.27, 10,0.24, 12,0.24, 14,0.20, 16,0.10, 18,0.15, 20,0.08, 22,0.12, 25,0.06, 30,0.10, 35,0.12, 38,0.05, 40,0.15, 42,0.08, 45,0.09, 50,0.08, 60,0.08, 70,0.08, 75,0.05, 80,0.03, 100,0.02, 150,0.01, 1000,0],
  [1,0.56, 2,0.63, 3,0.55, 4,0.41, 6,0.41, 8,0.40, 10,0.41, 12,0.41, 15,0.42, 18,0.40, 20,0.42, 22,0.38, 25,0.35, 28,0.32, 30,0.29, 35,0.28, 38,0.32, 40,0.27, 45,0.30, 50,0.25, 55,0.28, 60,0.27, 70,0.27, 80,0.26, 90,0.22, 100,0.20, 110,0.15, 120,0.10, 150,0.05, 200,0.02, 250,0.005, 300,0, 1000,0],
  [1,0.38, 2,0.38, 3,0.52, 4,0.50, 5,0.14, 6,0.38, 7,0.45, 8,0.22, 9,0.30, 10,0.07, 11,0.12, 12,0.30, 14,0.10, 16,0.20, 18,0.15, 20,0.10, 25,0.06, 28,0.15, 30,0.05, 32,0.18, 35,0.02, 40,0.06, 45,0.02, 50,0.04, 55,0.01, 60,0.005, 1000,0],
  [1,0.50, 2,0.17, 3,0.23, 4,0.22, 5,0.35, 6,0.34, 7,0.25, 8,0.50, 9,0.20, 10,0.35, 11,0.10, 12,0.28, 13,0.05, 14,0.22, 15,0.08, 16,0.25, 17,0.03, 18,0.20, 20,0.10, 22,0.18, 25,0.05, 30,0.10, 35,0.02, 40,0.06, 50,0.02, 80,0.01, 1000,0],
  [1,0.30, 2,0.50, 3,0.30, 4,0.50, 5,0.25, 6,0.35, 7,0.28, 8,0.45, 9,0.20, 10,0.25, 11,0.40, 12,0.10, 14,0.30, 16,0.12, 18,0.25, 20,0.08, 22,0.22, 25,0.05, 30,0.12, 32,0.03, 35,0.10, 40,0.02, 50,0.01, 100,0, 1000,0],
  [1,0.28, 2,0.21, 3,0.27, 4,0.22, 5,0.28, 6,0.26, 7,0.30, 8,0.24, 10,0.24, 12,0.24, 14,0.25, 16,0.15, 18,0.10, 20,0.18, 22,0.05, 25,0.12, 30,0.04, 40,0.05, 50,0.03, 60,0.02, 80,0.01, 120,0.005, 1000,0]
];

const zdt6TitoLocals = [
  [1,0.15, 2,0.15, 3,0.09, 4,0.15, 5,0.27, 6,0.30, 7,0.40, 8,0.45, 9,0.30, 10,0.20, 12,0.25, 14,0.20, 16,0.15, 20,0.15, 25,0.12, 30,0.10, 40,0.10, 50,0.08, 60,0.06, 80,0.04, 100,0.02, 150,0.01, 200,0, 1000,0],
  [1,0.22, 2,0.54, 3,0.16, 4,0.14, 5,0.20, 6,0.30, 7,0.25, 8,0.10, 9,0.45, 10,0.05, 11,0.30, 12,0.10, 14,0.25, 16,0.05, 18,0.20, 20,0.05, 25,0.26, 30,0.25, 35,0.05, 40,0.20, 50,0.03, 60,0.02, 100,0.01, 1000,0],
  [1,0.64, 2,0.35, 3,0.79, 4,0.83, 5,0.50, 6,0.85, 7,0.85, 8,0.85, 9,0.84, 10,0.10, 11,0.40, 12,0.20, 13,0.85, 14,0.20, 16,0.25, 20,0.23, 25,0.23, 30,0.22, 35,0.20, 40,0.15, 50,0.12, 60,0.10, 70,0.05, 100,0.02, 200,0, 1000,0],
  [1,0.54, 2,0.44, 3,0.25, 4,0.50, 5,0.35, 6,0.52, 7,0.30, 8,0.20, 9,0.45, 10,0.15, 11,0.40, 12,0.20, 14,0.15, 16,0.10, 20,0.16, 25,0.15, 30,0.18, 40,0.20, 50,0.21, 55,0.20, 60,0.10, 70,0.09, 80,0.12, 90,0.05, 100,0.04, 150,0.02, 200,0, 1000,0],
  [1,0.29, 2,0.30, 3,0.40, 4,0.38, 5,0.35, 6,0.40, 8,0.30, 10,0.35, 12,0.32, 15,0.30, 20,0.45, 22,0.50, 25,0.53, 28,0.55, 30,0.53, 35,0.54, 38,0.50, 40,0.47, 45,0.44, 50,0.44, 55,0.43, 60,0.43, 65,0.44, 70,0.40, 75,0.38, 80,0.35, 90,0.30, 100,0.28, 110,0.22, 120,0.18, 140,0.10, 160,0.05, 200,0.02, 250,0.005, 1000,0],
  [1,0.76, 2,0.67, 3,0.40, 4,0.55, 5,0.60, 6,0.62, 7,0.55, 8,0.50, 9,0.52, 10,0.48, 12,0.47, 14,0.47, 16,0.48, 18,0.47, 20,0.46, 22,0.47, 25,0.35, 27,0.50, 30,0.52, 32,0.45, 35,0.50, 38,0.38, 40,0.35, 50,0.33, 60,0.30, 70,0.28, 80,0.25, 90,0.18, 100,0.20, 110,0.17, 130,0.14, 150,0.10, 170,0.07, 200,0.05, 230,0.03, 260,0.005, 1000,0],
  [1,0.48, 2,0.43, 3,0.28, 4,0.58, 5,0.40, 6,0.55, 7,0.50, 8,0.20, 9,0.61, 10,0.30, 11,0.45, 12,0.15, 13,0.35, 14,0.10, 15,0.25, 16,0.15, 18,0.20, 20,0.08, 25,0.05, 30,0.06, 40,0.03, 60,0.02, 80,0.01, 1000,0],
  [1,0.40, 2,0.45, 3,0.60, 4,0.62, 5,0.58, 6,0.52, 7,0.62, 8,0.25, 9,0.45, 10,0.55, 11,0.60, 12,0.52, 13,0.60, 14,0.50, 15,0.62, 16,0.52, 17,0.64, 18,0.50, 20,0.50, 22,0.25, 25,0.20, 30,0.15, 40,0.15, 50,0.13, 60,0.10, 80,0.08, 100,0.03, 150,0.01, 200,0, 1000,0],
  [1,0.50, 2,0.40, 3,0.45, 4,0.30, 5,0.52, 6,0.20, 7,0.45, 8,0.30, 9,0.10, 10,0.35, 11,0.15, 12,0.25, 14,0.05, 16,0.10, 20,0.08, 25,0.06, 30,0.10, 35,0.02, 40,0.05, 50,0.02, 60,0.03, 80,0.01, 1000,0],
  [1,0.22, 2,0.24, 3,0.40, 4,0.82, 5,0.30, 6,0.45, 7,0.35, 8,0.40, 9,0.20, 10,0.45, 11,0.15, 12,0.38, 13,0.12, 15,0.35, 16,0.10, 18,0.12, 20,0.10, 25,0.08, 30,0.15, 40,0.12, 50,0.10, 60,0.12, 70,0.05, 100,0.03, 150,0.01, 1000,0],
  [1,0.45, 2,0.38, 3,0.42, 4,0.45, 5,0.15, 6,0.50, 7,0.35, 8,0.45, 9,0.28, 10,0.40, 11,0.22, 12,0.35, 13,0.20, 14,0.30, 15,0.25, 16,0.10, 18,0.15, 20,0.12, 30,0.10, 40,0.12, 50,0.10, 70,0.10, 90,0.08, 100,0.06, 110,0.02, 1000,0],
  [1,0.24, 2,0.27, 3,0.20, 4,0.30, 5,0.45, 6,0.50, 7,0.35, 8,0.45, 10,0.30, 12,0.25, 15,0.25, 20,0.15, 25,0.16, 30,0.15, 40,0.05, 50,0.10, 60,0.05, 80,0.03, 100,0.02, 150,0.01, 1000,0],
  [1,0.72, 2,0.60, 3,0.38, 4,0.50, 5,0.55, 6,0.60, 7,0.58, 8,0.40, 9,0.78, 10,0.30, 11,0.35, 12,0.25, 15,0.30, 20,0.25, 25,0.20, 30,0.22, 40,0.18, 50,0.15, 60,0.12, 70,0.15, 100,0.10, 130,0.08, 150,0.05, 200,0.02, 1000,0],
  [1,0.40, 2,0.45, 3,0.30, 4,0.25, 5,0.50, 6,0.45, 7,0.35, 8,0.25, 9,0.60, 10,0.10, 11,0.30, 12,0.10, 13,0.25, 14,0.05, 16,0.15, 20,0.10, 25,0.12, 30,0.05, 40,0.08, 50,0.06, 60,0.05, 80,0.03, 100,0.02, 1000,0],
  [1,0.45, 2,0.20, 3,0.40, 4,0.35, 5,0.09, 6,0.25, 7,0.08, 8,0.30, 9,0.10, 10,0.35, 12,0.15, 14,0.10, 16,0.13, 20,0.12, 25,0.15, 30,0.14, 40,0.10, 50,0.15, 60,0.12, 70,0.10, 80,0.06, 100,0.03, 150,0.01, 1000,0],
  [1,0.35, 2,0.48, 3,0.30, 4,0.25, 5,0.40, 6,0.30, 7,0.20, 8,0.35, 9,0.15, 10,0.20, 12,0.05, 14,0.15, 16,0.12, 18,0.03, 20,0.10, 25,0.04, 30,0.02, 40,0.03, 50,0.01, 1000,0],
  [1,0.30, 2,0.22, 3,0.25, 4,0.45, 5,0.35, 6,0.28, 7,0.30, 8,0.18, 10,0.25, 12,0.23, 15,0.23, 20,0.23, 25,0.22, 30,0.12, 40,0.14, 50,0.08, 60,0.10, 70,0.05, 100,0.02, 1000,0],
  [1,0.35, 2,0.20, 3,0.48, 4,0.42, 5,0.30, 6,0.40, 7,0.30, 8,0.50, 9,0.20, 10,0.40, 12,0.15, 14,0.20, 16,0.15, 20,0.10, 30,0.08, 40,0.10, 50,0.07, 60,0.05, 80,0.03, 100,0.02, 1000,0],
  [1,0.20, 2,0.22, 3,0.30, 4,0.25, 5,0.30, 6,0.20, 8,0.25, 10,0.24, 15,0.25, 20,0.25, 25,0.24, 30,0.22, 40,0.20, 50,0.15, 60,0.12, 80,0.08, 100,0.05, 150,0.02, 200,0.01, 1000,0],
  [1,0.55, 2,0.50, 3,0.45, 4,0.50, 5,0.45, 6,0.55, 7,0.40, 8,0.45, 10,0.45, 12,0.48, 15,0.42, 20,0.40, 25,0.30, 30,0.25, 40,0.20, 50,0.18, 60,0.15, 70,0.12, 80,0.10, 100,0.06, 130,0.04, 180,0.02, 1000,0],
  [1,0.50, 2,0.40, 3,0.40, 4,0.58, 5,0.58, 6,0.45, 7,0.58, 8,0.20, 9,0.50, 10,0.12, 11,0.40, 12,0.10, 14,0.20, 16,0.10, 20,0.03, 25,0.04, 30,0.03, 40,0.02, 60,0.02, 100,0.01, 1000,0],
  [1,0.38, 2,0.42, 3,0.15, 4,0.52, 5,0.50, 6,0.35, 7,0.15, 8,0.40, 9,0.30, 10,0.25, 12,0.40, 13,0.30, 14,0.62, 15,0.40, 16,0.55, 18,0.45, 20,0.35, 22,0.15, 25,0.12, 30,0.10, 40,0.08, 50,0.06, 70,0.03, 100,0.02, 150,0.005, 1000,0],
  [1,0.45, 2,0.50, 3,0.40, 4,0.35, 5,0.30, 6,0.45, 7,0.25, 8,0.40, 9,0.15, 10,0.30, 11,0.10, 12,0.25, 13,0.05, 14,0.20, 15,0.08, 16,0.18, 18,0.05, 20,0.15, 22,0.04, 25,0.12, 28,0.03, 30,0.10, 35,0.05, 40,0.08, 45,0.02, 50,0.06, 60,0.02, 80,0.01, 1000,0],
  [1,0.25, 2,0.42, 3,0.50, 4,0.35, 5,0.45, 6,0.30, 7,0.50, 8,0.20, 9,0.45, 10,0.15, 11,0.50, 12,0.40, 13,0.48, 14,0.20, 15,0.25, 20,0.23, 30,0.20, 40,0.15, 50,0.14, 60,0.13, 70,0.10, 80,0.08, 90,0.10, 100,0.03, 130,0.01, 1000,0],
  [1,0.48, 2,0.42, 3,0.35, 4,0.30, 5,0.45, 6,0.35, 7,0.50, 8,0.25, 9,0.48, 10,0.30, 11,0.45, 12,0.22, 13,0.40, 14,0.18, 15,0.30, 16,0.15, 18,0.20, 20,0.15, 25,0.10, 30,0.12, 40,0.08, 50,0.12, 60,0.10, 70,0.08, 80,0.10, 90,0.05, 100,0.03, 150,0.01, 1000,0]
];

// page layout of the eight sub-plots
const panels = [
  { lines: zdt1OiooGlobals, ticks: unitTicks, yName: 'z\u0304', caption: '(a) ZDT1-MDO OIOO: globals',
    box: [65, 14, 309, 223], yNamePos: [18, 125], xNamePos: [214, 282], capPos: [200, 312] },
  { lines: zdt1OiooLocals, ticks: unitTicks, yName: 'x', caption: '(b) ZDT1-MDO OIOO: locals',
    box: [541, 12, 311, 225], yNamePos: [493, 125], xNamePos: [690, 281], capPos: [678, 311] },
  { lines: zdt4OiooGlobals, ticks: zdt4Ticks, yName: 'z\u0304', caption: '(c) ZDT4-MDO OIOO: globals',
    box: [54, 365, 320, 226], yNamePos: [18, 477], xNamePos: [208, 635], capPos: [200, 666] },
  { lines: zdt4OiooLocals, ticks: zdt4Ticks, yName: 'x', caption: '(d) ZDT4-MDO OIOO: locals',
    box: [531, 363, 321, 227], yNamePos: [493, 477], xNamePos: [685, 634], capPos: [678, 664] },
  { lines: zdt4AiaoGlobals, ticks: zdt4Ticks, yName: 'z\u0304', caption: '(e) ZDT4-MDO AIAO: globals',
    box: [54, 719, 320, 226], yNamePos: [18, 832], xNamePos: [208, 989], capPos: [200, 1021] },
  { lines: zdt4AiaoLocals, ticks: zdt4Ticks, yName: 'x', caption: '(f) ZDT4-MDO AIAO: locals',
    box: [531, 716, 321, 228], yNamePos: [493, 830], xNamePos: [685, 989], capPos: [678, 1021] },
  { lines: zdt6TitoGlobals, ticks: unitTicks, yName: 'z\u0304', caption: '(g) ZDT6-MDO TITO: globals',
    box: [65, 1073, 309, 223], yNamePos: [18, 1184], xNamePos: [214, 1340], capPos: [200, 1371] },
  { lines: zdt6TitoLocals, ticks: unitTicks, yName: 'x', caption: '(h) ZDT6-MDO TITO: locals',
    box: [541, 1071, 311, 225], yNamePos: [493, 1183], xNamePos: [690, 1340], capPos: [678, 1371] }
];

const axisColor = '#262626';
const sansFont = '"Liberation Sans", Arial, sans-serif';

function toPoints(flat) {
  const pts = [];
  for (let i = 0; i < flat.length; i += 2) pts.push([flat[i], flat[i + 1]]);
  return pts;
}

function textEl(x, y, text, style, extra) {
  return Object.assign({
    type: 'text', x: x, y: y, silent: true, z: 100,
    style: Object.assign({
      text: text, fill: axisColor, textAlign: 'center', textVerticalAlign: 'middle',
      align: 'center', verticalAlign: 'middle'
    }, style)
  }, extra || {});
}

const option = { animation: false, backgroundColor: '#fff', grid: [], xAxis: [], yAxis: [], series: [], graphic: [] };

panels.forEach((p, i) => {
  const [left, top, width, height] = p.box;
  const [yMin, yMax, yStep] = p.ticks;
  option.grid.push({ left: left, top: top, width: width, height: height });

  const xi = option.xAxis.length;
  const common = { type: 'log', logBase: 10, gridIndex: i, min: 1, max: 1000 };
  option.xAxis.push(Object.assign({}, common, {
    position: 'bottom',
    axisLine: { show: true, onZero: false, lineStyle: { color: axisColor, width: 1 } },
    axisTick: { show: true, inside: true, length: 5, lineStyle: { color: axisColor } },
    splitLine: { show: true, lineStyle: { color: '#e1e1e1', width: 1 } },
    axisLabel: {
      margin: 9,
      formatter: v => '{b|10}{s|' + Math.round(Math.log10(v)) + '}',
      rich: {
        b: { fontSize: 17, fontFamily: sansFont, color: axisColor },
        s: { fontSize: 12, fontFamily: sansFont, color: axisColor, padding: [0, 0, 13, 2] }
      }
    }
  }));
  option.xAxis.push(Object.assign({}, common, {
    position: 'top',
    axisLine: { show: true, onZero: false, lineStyle: { color: axisColor, width: 1 } },
    axisTick: { show: true, inside: true, length: 5, lineStyle: { color: axisColor } },
    axisLabel: { show: false }, splitLine: { show: false }
  }));

  const yi = option.yAxis.length;
  const yCommon = { type: 'value', gridIndex: i, min: yMin, max: yMax, interval: yStep };
  option.yAxis.push(Object.assign({}, yCommon, {
    position: 'left',
    axisLine: { show: true, onZero: false, lineStyle: { color: axisColor, width: 1 } },
    axisTick: { show: true, inside: true, length: 5, lineStyle: { color: axisColor } },
    splitLine: { show: true, lineStyle: { color: '#e1e1e1', width: 1 } },
    axisLabel: { margin: 9, fontSize: 17, fontFamily: sansFont, color: axisColor }
  }));
  option.yAxis.push(Object.assign({}, yCommon, {
    position: 'right',
    axisLine: { show: true, onZero: false, lineStyle: { color: axisColor, width: 1 } },
    axisTick: { show: true, inside: true, length: 5, lineStyle: { color: axisColor } },
    axisLabel: { show: false }, splitLine: { show: false }
  }));

  // dotted minor grid and short minor ticks at 2..9 x 10^k (gaps between segments)
  const tickLen = 3 * (yMax - yMin) / height;
  const gridPts = [], tickPts = [];
  minorGenerations.forEach(g => {
    gridPts.push([g, yMin], [g, yMax], [g, null]);
    tickPts.push([g, yMin], [g, yMin + tickLen], [g, null], [g, yMax - tickLen], [g, yMax], [g, null]);
  });
  option.series.push({
    type: 'line', xAxisIndex: xi, yAxisIndex: yi, data: gridPts, connectNulls: false,
    symbol: 'none', silent: true, z: 1, lineStyle: { color: '#c9c9c9', type: [1, 2], width: 1 }
  });
  option.series.push({
    type: 'line', xAxisIndex: xi, yAxisIndex: yi, data: tickPts, connectNulls: false,
    symbol: 'none', silent: true, z: 5, lineStyle: { color: axisColor, width: 1 }
  });

  p.lines.forEach((flat, k) => {
    const color = matlabColors[k % matlabColors.length];
    option.series.push({
      type: 'line', xAxisIndex: xi, yAxisIndex: yi, data: toPoints(flat),
      symbol: 'none', silent: true, z: 3, clip: true,
      lineStyle: { color: color, width: 1 }, itemStyle: { color: color }
    });
  });

  option.graphic.push(textEl(p.xNamePos[0], p.xNamePos[1], 'Generations',
    { fontSize: 19, fontFamily: sansFont }));
  option.graphic.push(textEl(p.yNamePos[0], p.yNamePos[1], p.yName,
    p.yName === 'x' ? { fontSize: 19, fontFamily: sansFont }
                    : { fontSize: 18, fontFamily: '"DejaVu Sans", sans-serif', fontWeight: 'bold' },
    { rotation: Math.PI / 2 }));
  option.graphic.push(textEl(p.capPos[0], p.capPos[1], p.caption,
    { fontSize: 22, fontFamily: '"Liberation Serif", "Times New Roman", serif' },
    { scaleX: 1.2 }));
});

const chart = echarts.init(document.getElementById('chart'), null, { renderer: 'canvas' });
chart.setOption(option);
</script>
</body>
</html>
